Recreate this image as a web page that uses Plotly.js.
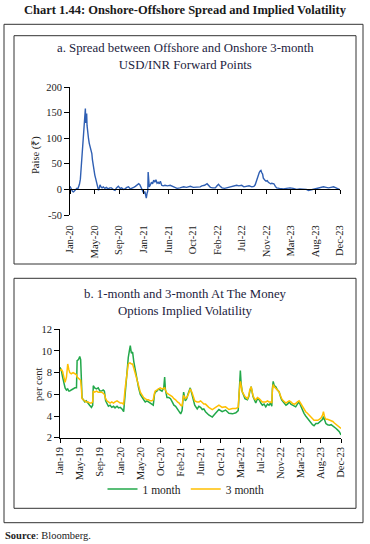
<!DOCTYPE html>
<html>
<head>
<meta charset="utf-8">
<script src="https://cdn.plot.ly/plotly-3.0.1.min.js"></script>
<style>html,body{margin:0;padding:0;background:#fff;}#chart{width:370px;height:544px;}</style>
</head>
<body>
<div id="chart"></div>
<script>
// ---------- Panel a: Spread between offshore and onshore 3-month forward points (paise) ----------
const spreadDates = ["2020-01-01","2020-01-06","2020-01-10","2020-01-15","2020-01-20","2020-01-24","2020-01-29","2020-02-03","2020-02-07","2020-02-12","2020-02-17","2020-02-21","2020-02-26","2020-03-02","2020-03-06","2020-03-10","2020-03-13","2020-03-17","2020-03-20","2020-03-24","2020-03-26","2020-03-28","2020-03-31","2020-04-02","2020-04-04","2020-04-07","2020-04-10","2020-04-14","2020-04-17","2020-04-21","2020-04-24","2020-04-28","2020-05-01","2020-05-05","2020-05-08","2020-05-11","2020-05-14","2020-05-18","2020-05-22","2020-05-26","2020-05-29","2020-06-03","2020-06-08","2020-06-11","2020-06-16","2020-06-22","2020-06-29","2020-07-07","2020-07-15","2020-07-25","2020-08-03","2020-08-12","2020-08-21","2020-08-31","2020-09-08","2020-09-18","2020-09-28","2020-10-06","2020-10-15","2020-10-24","2020-11-03","2020-11-12","2020-11-22","2020-12-01","2020-12-10","2020-12-19","2020-12-28","2021-01-06","2021-01-12","2021-01-18","2021-01-24","2021-01-29","2021-02-03","2021-02-08","2021-02-12","2021-02-16","2021-02-20","2021-02-24","2021-02-26","2021-03-01","2021-03-04","2021-03-09","2021-03-16","2021-03-22","2021-03-28","2021-04-03","2021-04-09","2021-04-15","2021-04-21","2021-04-27","2021-05-03","2021-05-10","2021-05-18","2021-05-28","2021-06-10","2021-06-25","2021-07-10","2021-07-22","2021-08-01","2021-08-16","2021-09-06","2021-09-21","2021-10-12","2021-10-28","2021-11-16","2021-12-04","2021-12-13","2021-12-28","2022-01-10","2022-01-20","2022-01-28","2022-02-10","2022-02-24","2022-03-05","2022-03-13","2022-03-22","2022-04-01","2022-04-15","2022-04-28","2022-05-10","2022-05-22","2022-06-05","2022-06-19","2022-07-01","2022-07-16","2022-07-28","2022-08-12","2022-08-25","2022-09-09","2022-09-20","2022-09-27","2022-10-03","2022-10-08","2022-10-14","2022-10-19","2022-10-24","2022-10-28","2022-11-01","2022-11-06","2022-11-10","2022-11-15","2022-11-19","2022-11-25","2022-12-01","2022-12-07","2022-12-13","2022-12-19","2022-12-25","2023-01-06","2023-01-14","2023-01-21","2023-02-05","2023-02-27","2023-03-15","2023-04-03","2023-04-20","2023-05-09","2023-05-25","2023-06-15","2023-06-30","2023-07-12","2023-07-25","2023-08-09","2023-08-22","2023-09-03","2023-09-18","2023-10-01","2023-10-15","2023-10-28","2023-11-10","2023-11-24","2023-12-08","2023-12-21","2023-12-29"];
const spreadValues = [6,2,-2,-4,-5,-3,-2,0,2,1,5,10,20,45,70,95,110,128,140,158,130,145,148,125,115,105,99,90,86,80,75,70,58,47,38,32,28,22,14,8,2,-2,4,9,5,3,5,2,4,1,3,3,0,-2,3,6,2,3,0,1,4,5,1,2,4,6,9,11,9,4,-2,-5,-8,-4,-12,-17,-8,-3,34,15,5,8,14,11,18,14,19,12,14,11,16,8,7,8,7,8,5,4,2,3,5,4,6,4,5,5,7,8,11,6,4,3,3,7,10,6,3,2,3,4,5,6,8,7,8,5,6,7,5,6,9,16,24,30,33,36,37,33,30,22,19,18,16,17,14,12,11,12,11,6,3,2,1,2,3,2,0,1,1,0,-2,-1,0,2,3,3,5,4,3,4,5,3,1,-1];
const spreadTickLabels = ["Jan-20","May-20","Sep-20","Jan-21","Jun-21","Oct-21","Feb-22","Jul-22","Nov-22","Mar-23","Aug-23","Dec-23"];
const spreadYTicks = [-50, 0, 50, 100, 150, 200];
const spreadYTickLabels = ["-50", "0", "50", "100", "150", "200"];

// ---------- Panel b: 1-month and 3-month ATM implied volatility (per cent) ----------
const volDates = ["2019-01-01","2019-01-10","2019-01-18","2019-01-25","2019-02-03","2019-02-12","2019-02-20","2019-02-27","2019-03-05","2019-03-15","2019-03-27","2019-04-08","2019-04-18","2019-04-22","2019-05-01","2019-05-09","2019-05-15","2019-05-20","2019-05-24","2019-06-01","2019-06-11","2019-06-20","2019-07-03","2019-07-12","2019-07-24","2019-08-01","2019-08-05","2019-08-14","2019-08-26","2019-09-06","2019-09-17","2019-09-28","2019-10-08","2019-10-16","2019-10-24","2019-11-01","2019-11-11","2019-11-22","2019-12-03","2019-12-14","2019-12-24","2020-01-06","2020-01-16","2020-01-27","2020-02-07","2020-02-18","2020-02-28","2020-03-06","2020-03-10","2020-03-19","2020-03-26","2020-04-01","2020-04-08","2020-04-16","2020-04-24","2020-05-03","2020-05-14","2020-05-25","2020-06-05","2020-06-16","2020-06-27","2020-07-07","2020-07-18","2020-07-28","2020-08-08","2020-08-19","2020-08-28","2020-09-05","2020-09-10","2020-09-20","2020-10-01","2020-10-12","2020-10-24","2020-11-04","2020-11-10","2020-11-15","2020-11-25","2020-12-07","2020-12-18","2020-12-29","2021-01-09","2021-01-20","2021-02-01","2021-02-12","2021-02-22","2021-03-03","2021-03-08","2021-03-13","2021-03-24","2021-04-02","2021-04-10","2021-04-18","2021-04-25","2021-05-06","2021-05-15","2021-05-24","2021-06-09","2021-06-20","2021-07-01","2021-07-12","2021-07-22","2021-08-02","2021-08-23","2021-09-15","2021-10-06","2021-10-28","2021-11-18","2021-12-10","2022-01-01","2022-01-24","2022-02-15","2022-03-02","2022-03-08","2022-03-12","2022-03-16","2022-03-21","2022-03-28","2022-04-07","2022-04-15","2022-05-01","2022-05-10","2022-05-16","2022-05-25","2022-06-06","2022-06-15","2022-06-24","2022-07-05","2022-07-16","2022-07-27","2022-08-06","2022-08-17","2022-08-28","2022-09-08","2022-09-18","2022-09-28","2022-10-06","2022-10-10","2022-10-15","2022-10-22","2022-11-01","2022-11-12","2022-11-22","2022-12-01","2022-12-09","2022-12-20","2023-01-06","2023-01-16","2023-01-27","2023-02-07","2023-02-18","2023-03-01","2023-03-10","2023-03-21","2023-04-01","2023-04-10","2023-04-18","2023-05-03","2023-05-14","2023-05-25","2023-06-05","2023-06-16","2023-06-27","2023-07-07","2023-07-19","2023-08-01","2023-08-10","2023-08-21","2023-09-01","2023-09-06","2023-09-14","2023-09-22","2023-10-03","2023-10-15","2023-10-26","2023-11-06","2023-11-16","2023-11-27","2023-12-08","2023-12-18","2023-12-29"];
const oneMonth = [8.5,8.2,7.6,7.0,6.6,6.4,6.5,6.3,6.3,6.4,6.5,6.6,6.6,9.1,9.2,9.5,9.2,7.0,5.7,5.5,5.3,5.4,5.1,5.0,4.8,5.0,6.8,6.6,6.5,6.6,6.3,6.3,6.4,6.3,5.4,5.1,4.9,5.0,4.8,4.9,4.75,4.9,4.75,4.8,4.65,4.4,6.3,7.5,8.5,9.4,10.0,10.5,9.8,9.9,9.0,8.2,7.4,6.6,6.0,5.7,5.5,5.3,5.4,5.3,5.2,5.1,5.0,6.0,6.2,6.3,6.5,6.4,6.3,6.6,7.6,6.4,5.7,5.7,5.6,5.3,5.0,4.9,4.65,4.5,4.2,4.5,5.6,6.2,5.4,5.6,6.0,6.3,6.6,6.0,5.5,5.0,4.65,4.9,4.8,4.6,4.65,4.4,4.1,3.9,4.25,4.6,4.4,4.55,4.25,4.2,4.3,4.5,6.0,6.7,8.2,7.0,6.25,5.9,5.6,5.5,5.8,6.25,6.7,5.8,5.4,5.2,5.6,5.5,5.2,5.0,5.1,4.85,5.1,5.0,5.2,4.9,6.5,7.2,6.8,6.7,6.4,6.25,5.8,5.5,5.3,5.0,5.1,5.3,5.1,5.0,4.9,4.85,5.1,5.3,5.0,4.7,4.25,4.0,3.8,3.5,3.3,3.2,3.1,3.3,3.3,3.4,3.5,3.7,3.95,3.5,3.3,3.2,3.15,3.2,3.1,3.0,2.85,2.7,2.55,2.25];
const threeMonth = [8.2,8.3,8.1,7.5,7.1,7.6,8.8,8.3,8.0,7.9,8.0,7.9,7.8,7.6,7.5,7.4,7.3,6.5,5.6,5.5,5.4,5.3,5.3,5.2,5.2,5.3,6.3,6.2,6.3,6.2,6.2,6.2,6.1,6.0,5.6,5.4,5.3,5.2,5.3,5.2,5.3,5.4,5.3,5.2,5.2,5.1,6.6,7.4,8.2,8.8,8.9,8.9,8.8,8.8,8.4,8.0,7.4,6.8,6.2,5.9,5.7,5.6,5.5,5.5,5.4,5.4,5.5,6.1,6.3,6.4,6.5,6.6,6.5,6.6,6.6,6.4,6.1,6.0,5.9,5.8,5.6,5.5,5.3,5.2,5.0,4.9,5.5,5.9,5.6,5.7,5.9,6.2,6.5,6.2,5.7,5.4,5.3,5.3,5.4,5.2,5.1,5.1,4.8,4.6,4.8,5.0,4.8,4.85,4.6,4.7,4.7,4.8,6.1,6.7,7.2,6.8,6.25,6.0,5.8,5.6,5.9,6.4,6.7,5.9,5.6,5.5,5.7,5.6,5.4,5.3,5.3,5.3,5.4,5.3,5.3,5.2,6.4,6.9,6.7,6.55,6.4,6.25,5.9,5.6,5.4,5.2,5.3,5.4,5.3,5.15,5.1,5.15,5.3,5.4,5.2,5.0,4.6,4.4,4.25,4.1,3.95,3.75,3.6,3.6,3.6,3.7,3.8,4.1,4.4,3.9,3.7,3.7,3.65,3.6,3.5,3.35,3.2,3.05,2.95,2.85];
const volTickLabels = ["Jan-19","May-19","Sep-19","Jan-20","May-20","Oct-20","Feb-21","Jun-21","Oct-21","Mar-22","Jul-22","Nov-22","Mar-23","Aug-23","Dec-23"];

// ---------- helpers (layout only) ----------
const W = 370, H = 544;
const px = v => v / W;
const py = v => 1 - v / H;
function evenTicks(start, end, n) {
  const t0 = Date.parse(start), t1 = Date.parse(end);
  const out = [];
  for (let i = 0; i < n; i++) out.push(new Date(t0 + (t1 - t0) * i / (n - 1)).toISOString().slice(0, 10));
  return out;
}
const aRange = [spreadDates[0], spreadDates[spreadDates.length - 1]];
const bRange = [volDates[0], volDates[volDates.length - 1]];
const aTicks = evenTicks(aRange[0], aRange[1], spreadTickLabels.length);
const bTicks = evenTicks(bRange[0], bRange[1], volTickLabels.length);

const SERIF = "Liberation Serif, Times New Roman, serif";
const TXT = "#222";

const aDomY = [py(215), py(87)];
const aY = [-50, 200];
const zeroPos = aDomY[0] + (0 - aY[0]) / (aY[1] - aY[0]) * (aDomY[1] - aDomY[0]);

const traces = [
  {x: spreadDates, y: spreadValues, type: 'scatter', mode: 'lines', xaxis: 'x', yaxis: 'y',
   line: {color: '#2f5fb3', width: 1.4}, showlegend: false, hoverinfo: 'skip'},
  {x: [], y: [], type: 'scatter', mode: 'lines', xaxis: 'x3', yaxis: 'y', showlegend: false, hoverinfo: 'skip'},
  {x: volDates, y: oneMonth, type: 'scatter', mode: 'lines', name: '1 month', xaxis: 'x2', yaxis: 'y2',
   line: {color: '#22a84a', width: 1.5}, hoverinfo: 'skip'},
  {x: volDates, y: threeMonth, type: 'scatter', mode: 'lines', name: '3 month', xaxis: 'x2', yaxis: 'y2',
   line: {color: '#ffbf00', width: 1.5}, hoverinfo: 'skip'}
];

const tickFont = {family: SERIF, size: 10.5, color: TXT};

const layout = {
  width: W, height: H,
  margin: {l: 0, r: 0, t: 0, b: 0},
  paper_bgcolor: '#fff', plot_bgcolor: 'rgba(0,0,0,0)',
  title: {text: '<b>Chart 1.44: Onshore-Offshore Spread and Implied Volatility</b>',
          x: 0.5, xanchor: 'center', y: py(9.5), yanchor: 'middle', xref: 'paper', yref: 'paper',
          font: {family: SERIF, size: 12.5, color: '#1a1a1a'}},
  xaxis: {domain: [px(70), px(340)], anchor: 'y', type: 'date', range: aRange,
          tickmode: 'array', tickvals: aTicks, ticktext: spreadTickLabels, tickangle: -90,
          ticks: 'outside', ticklen: 5, tickcolor: 'rgba(0,0,0,0)', showline: false,
          showgrid: false, zeroline: false, tickfont: tickFont},
  xaxis3: {overlaying: 'x', anchor: 'free', position: zeroPos, type: 'date', range: aRange,
           tickmode: 'array', tickvals: aTicks, showticklabels: false,
           ticks: 'outside', ticklen: 4, tickcolor: '#000', showline: true, linecolor: '#000', linewidth: 1,
           showgrid: false, zeroline: false},
  yaxis: {domain: aDomY, anchor: 'x', range: aY, tickmode: 'array', tickvals: spreadYTicks, ticktext: spreadYTickLabels,
          ticks: 'outside', ticklen: 5, tickcolor: '#000', showline: true, linecolor: '#000', linewidth: 1,
          showgrid: false, zeroline: false, tickfont: tickFont},
  xaxis2: {domain: [px(60), px(341)], anchor: 'y2', type: 'date', range: bRange,
           tickmode: 'array', tickvals: bTicks, ticktext: volTickLabels, tickangle: -90,
           ticks: 'outside', ticklen: 4, tickcolor: '#000', showline: true, linecolor: '#000', linewidth: 1,
           showgrid: false, zeroline: false, tickfont: tickFont},
  yaxis2: {domain: [py(437.7), py(329.3)], anchor: 'x2', range: [2, 12], dtick: 2,
           ticks: 'outside', ticklen: 5, tickcolor: '#000', showline: true, linecolor: '#000', linewidth: 1,
           showgrid: false, zeroline: false, tickfont: tickFont},
  legend: {orientation: 'h', x: px(186), xanchor: 'center', y: py(489), yanchor: 'middle',
           font: {family: SERIF, size: 11.5, color: TXT}, bgcolor: 'rgba(0,0,0,0)', itemwidth: 30},
  annotations: [
    {text: 'a. Spread between Offshore and Onshore 3-month<br>USD/INR Forward Points', xref: 'paper', yref: 'paper',
     x: px(185), y: py(57), xanchor: 'center', yanchor: 'middle', showarrow: false,
     font: {family: SERIF, size: 12.8, color: '#1c2340'}},
    {text: 'b. 1-month and 3-month At The Money<br>Options Implied Volatility', xref: 'paper', yref: 'paper',
     x: px(185), y: py(302), xanchor: 'center', yanchor: 'middle', showarrow: false,
     font: {family: SERIF, size: 12.8, color: '#1c2340'}},
    {text: 'Paise (₹)', xref: 'paper', yref: 'paper', x: px(36), y: py(155), xanchor: 'center', yanchor: 'middle',
     textangle: -90, showarrow: false, font: {family: SERIF, size: 10.5, color: TXT}},
    {text: 'per cent', xref: 'paper', yref: 'paper', x: px(38), y: py(384), xanchor: 'center', yanchor: 'middle',
     textangle: -90, showarrow: false, font: {family: SERIF, size: 10.5, color: TXT}},
    {text: '<b>Source</b>: Bloomberg.', xref: 'paper', yref: 'paper',
     x: px(3), y: py(535), xanchor: 'left', yanchor: 'middle', showarrow: false,
     font: {family: SERIF, size: 10.5, color: TXT}}
  ],
  shapes: [
    {type: 'rect', xref: 'paper', yref: 'paper', x0: px(4), x1: px(363), y0: py(522.7), y1: py(24.3), line: {color: '#333', width: 1}},
    {type: 'rect', xref: 'paper', yref: 'paper', x0: px(14), x1: px(356), y0: py(264), y1: py(35.7), line: {color: '#333', width: 1}},
    {type: 'rect', xref: 'paper', yref: 'paper', x0: px(14), x1: px(356), y0: py(508.3), y1: py(278.3), line: {color: '#333', width: 1}}
  ]
};

Plotly.newPlot('chart', traces, layout, {staticPlot: true, displayModeBar: false});
</script>
</body>
</html>
